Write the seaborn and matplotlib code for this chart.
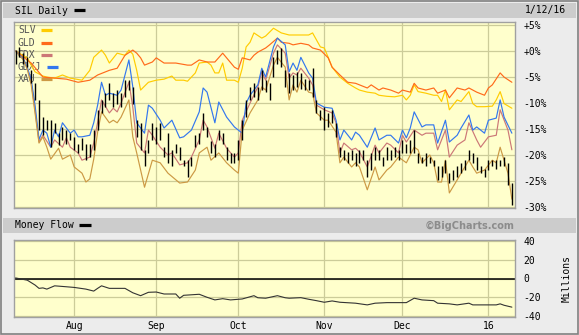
import numpy as np
import pandas as pd
import matplotlib
matplotlib.use("Agg")
import matplotlib.pyplot as plt
from matplotlib.patches import Rectangle
from matplotlib.lines import Line2D
import seaborn as sns

# ---------------- data (trading-day index from 13 Jul 2015, % change) -------------
TICK_POS = [15, 36, 57, 79, 99, 121]
TICK_LABELS = ["Aug", "Sep", "Oct", "Nov", "Dec", "16"]
Y_TICKS = [5, 0, -5, -10, -15, -20, -25, -30]
Y_LABELS = ["+5%", "+0%", "-5%", "-10%", "-15%", "-20%", "-25%", "-30%"]
MF_TICKS = [40, 20, 0, -20, -40]
MF_LABELS = ["40", "20", "0", "-20", "-40"]

SLV_idx = [0,3,4,5,7,8,10,12,14,17,19,20,22,23,24,26,28,29,30,31,32,34,36,38,40,41,43,44,46,47,
           49,50,51,52,53,54,56,57,58,59,60,61,63,64,66,68,70,73,75,76,78,79,80,81,83,85,87,88,90,92,
           93,95,97,99,100,101,102,103,105,107,108,109,110,111,113,114,116,117,118,120,122,123,124,125,127]
SLV_pct = [0,-1.3,-2.7,-4.0,-4.8,-5.0,-5.2,-4.6,-5.2,-5.6,-3.7,-1.2,0.2,-0.8,-2.3,-0.4,-0.8,0.2,-0.6,-3.7,
           -7.5,-6.0,-5.6,-5.4,-4.8,-5.6,-5.6,-5.8,-4.2,-2.3,-2.1,-2.7,-4.2,-4.2,-2.3,-5.6,-5.6,-6.0,-3.3,0.8,
           1.7,3.5,2.5,2.9,4.4,3.5,3.1,3.1,3.1,3.5,0.8,0.6,-1.2,-3.1,-5.0,-6.2,-7.1,-7.5,-7.9,-8.1,
           -8.5,-8.7,-8.8,-8.5,-9.4,-8.5,-6.5,-7.8,-8.1,-8.5,-8.5,-9.7,-7.5,-11.3,-9.4,-9.7,-7.8,-10.1,-10.7,-10.7,
           -10.6,-9.4,-7.8,-10.1,-11.0]

GLD_idx = [0,4,7,10,13,16,19,21,24,26,28,30,31,32,33,35,36,38,41,44,45,47,49,51,53,54,56,57,58,60,
           61,62,64,65,67,68,70,71,73,75,76,78,80,81,83,85,87,88,90,91,93,94,96,98,99,101,102,103,105,107,
           108,110,111,113,115,116,118,120,121,122,124,125,127]
GLD_pct = [0,-2.3,-5.0,-5.2,-5.4,-6.0,-5.6,-4.6,-3.7,-3.3,-0.8,0.2,-0.4,-1.3,-2.7,-2.1,-1.3,-2.3,-2.3,-2.7,
           -2.7,-1.7,-2.1,-2.1,-0.4,-1.3,-3.1,-3.5,-1.3,-1.7,-0.8,-0.2,0.6,1.2,2.5,1.7,1.5,1.2,1.5,1.2,
           0.6,0.2,-1.3,-3.1,-4.6,-6.0,-6.2,-6.5,-7.1,-6.5,-7.5,-7.1,-7.5,-8.1,-7.5,-7.9,-6.2,-7.1,-7.5,-7.1,
           -8.1,-7.5,-9.0,-7.1,-7.5,-7.1,-7.9,-8.5,-7.1,-6.5,-4.2,-5.0,-6.0]

GDX_idx = [0,2,3,4,5,6,7,9,10,12,13,14,16,17,19,20,21,22,24,25,26,27,29,30,31,33,34,35,37,39,
           40,42,44,45,47,48,49,51,52,54,56,57,58,60,62,63,64,66,67,69,70,71,72,73,75,76,77,79,81,82,
           83,84,86,87,88,90,92,93,95,96,98,99,100,102,104,105,107,108,110,111,113,115,116,118,119,121,123,124,126,127]
GDX_pct = [0,-1.5,-3.3,-6.0,-11.5,-17.5,-16.2,-18.5,-17.1,-18.5,-16.7,-18.5,-19.6,-21.0,-20.4,-17.7,-13.7,-9.4,-11.9,-11.0,
           -11.7,-10.0,-6.0,-10.8,-17.7,-19.6,-15.2,-16.2,-18.5,-20.0,-19.6,-21.9,-21.5,-20.4,-17.1,-13.3,-14.6,-18.7,-15.8,-18.7,
           -20.4,-19.6,-13.3,-10.0,-6.9,-4.0,-5.6,-0.4,1.2,-0.4,-5.2,-4.2,-4.6,-3.3,-5.2,-6.5,-10.4,-11.3,-11.9,-13.8,
           -19.6,-17.7,-19.0,-18.7,-19.4,-22.3,-18.1,-19.6,-17.7,-18.1,-19.6,-16.2,-17.5,-15.2,-16.2,-15.8,-15.8,-19.0,-15.2,-20.4,
           -18.1,-17.1,-13.8,-17.1,-18.5,-16.5,-16.2,-11.3,-15.2,-19.0]

GDXJ_idx = [0,2,3,4,5,6,7,8,9,10,11,12,14,15,16,17,19,20,21,22,23,24,26,27,29,30,31,33,34,35,
            37,38,40,42,43,45,47,48,49,51,52,54,56,58,59,60,62,63,64,66,67,69,70,71,72,73,75,76,77,79,
            81,82,83,84,86,87,88,90,92,93,95,96,98,99,100,101,102,104,105,107,108,110,111,113,114,116,117,118,120,121,
            123,124,125,127]
GDXJ_pct = [0,-1.5,-3.1,-5.5,-10.5,-17.0,-15.2,-15.8,-18.5,-15.2,-16.5,-13.8,-15.8,-15.2,-16.5,-16.5,-16.2,-13.8,-10.4,-6.0,
            -8.5,-8.1,-8.5,-7.5,-1.7,-6.9,-13.8,-15.8,-10.4,-11.0,-13.3,-14.8,-13.3,-16.7,-16.5,-15.2,-11.7,-7.1,-7.9,-13.8,
            -9.8,-12.7,-14.6,-15.8,-10.0,-8.5,-6.5,-3.3,-5.0,0.8,2.5,1.2,-4.0,-2.3,-3.7,-1.2,-4.2,-5.2,-10.0,-10.8,
            -11.0,-13.3,-17.1,-15.2,-17.1,-15.6,-16.2,-18.5,-14.8,-17.1,-16.2,-16.2,-17.7,-15.2,-16.7,-14.8,-11.7,-14.6,-14.2,-14.2,
            -17.7,-13.3,-17.5,-16.2,-14.8,-12.3,-15.2,-14.6,-15.8,-13.3,-12.9,-9.4,-12.7,-15.8]

XAU_idx = [0,2,3,4,5,6,7,8,9,11,12,14,15,17,18,19,20,21,22,24,25,26,27,29,30,31,33,35,37,39,
           42,44,46,47,49,50,52,54,56,57,58,60,62,63,64,66,67,69,70,71,72,73,75,76,77,79,80,82,83,84,
           86,87,88,90,92,93,95,96,98,100,102,103,104,106,107,108,109,110,111,113,114,116,117,118,120,122,123,124,125,126,
           127]
XAU_pct = [0,-1.7,-3.5,-6.5,-12.0,-17.7,-16.5,-18.5,-20.8,-18.7,-20.8,-20.0,-22.3,-23.5,-25.2,-24.6,-20.8,-15.6,-11.7,-13.8,
           -13.3,-13.8,-12.7,-9.4,-16.5,-19.6,-26.2,-21.0,-21.5,-23.5,-25.4,-25.2,-22.9,-19.6,-18.5,-21.0,-19.6,-21.5,-22.9,-23.5,
           -15.2,-11.9,-9.4,-6.9,-7.5,-2.7,-1.2,-3.1,-9.4,-6.5,-7.9,-5.6,-7.9,-8.1,-11.9,-13.3,-13.3,-15.6,-21.5,-20.4,
           -22.3,-21.5,-22.3,-26.7,-22.3,-24.8,-22.9,-22.3,-20.4,-21.5,-18.5,-19.0,-21.5,-20.0,-21.5,-25.2,-25.2,-21.0,-27.3,-24.8,
           -23.5,-21.0,-22.3,-23.5,-22.9,-21.0,-21.5,-18.5,-21.0,-23.5,
           -28.5]

SIL_hi = [0.3,0.8,-0.4,-1.1,-3.7,-6.2,-9.4,-12.6,-13.3,-13.3,
          -13.9,-15.8,-14.6,-15.2,-15.8,-16.5,-17.8,-16.8,-17.8,-17.8,
          -15.2,-11.3,-9.4,-8.1,-6.2,-8.1,-7.5,-8.1,-5.6,-5.6,
          -6.9,-13.3,-13.9,-19.0,-17.1,-13.9,-14.6,-13.9,-18.4,-15.8,
          -19.0,-17.8,-18.4,-21.0,-21.0,-20.3,-16.2,-15.8,-12.0,-14.6,
          -17.4,-17.8,-15.2,-15.8,-18.4,-19.7,-19.7,-17.1,-13.3,-9.4,
          -6.9,-6.2,-6.9,-3.7,-5.6,-6.2,-1.1,0.2,0.5,-3.7,
          -4.3,-4.6,-4.0,-4.3,-5.3,-5.6,-3.3,-9.4,-11.3,-10.7,
          -12.0,-11.3,-13.9,-18.4,-19.0,-19.4,-19.0,-19.7,-19.0,-19.0,
          -21.0,-19.7,-18.4,-19.0,-20.3,-18.4,-19.0,-18.4,-19.0,-17.1,
          -17.8,-17.1,-15.2,-19.7,-20.3,-19.7,-20.3,-21.0,-22.2,-22.2,
          -21.0,-23.5,-22.9,-22.2,-21.6,-21.0,-19.0,-19.7,-20.3,-22.2,
          -22.6,-21.0,-21.0,-21.0,-21.0,-20.3,-21.6,-25.4]
SIL_lo = [-2.4,-1.1,-2.4,-3.0,-6.2,-9.4,-15.2,-16.2,-15.2,-18.4,
          -15.8,-18.1,-17.1,-17.8,-17.1,-19.0,-19.7,-19.0,-21.0,-20.3,
          -19.0,-15.2,-12.0,-10.7,-9.4,-10.7,-10.1,-10.7,-8.8,-7.5,
          -10.1,-16.5,-19.0,-22.2,-19.7,-17.1,-17.8,-17.1,-20.3,-21.6,
          -22.2,-19.7,-21.0,-22.2,-24.2,-22.2,-18.4,-17.8,-15.2,-16.5,
          -19.7,-20.3,-17.1,-17.8,-21.0,-21.6,-21.6,-21.0,-17.1,-12.6,
          -9.4,-8.8,-9.4,-7.5,-7.8,-9.4,-4.9,-2.4,-3.0,-6.9,
          -8.1,-7.5,-6.9,-7.2,-7.5,-7.5,-8.8,-12.0,-13.3,-15.2,
          -14.6,-13.9,-16.5,-20.3,-21.0,-21.6,-21.0,-22.2,-21.6,-21.0,
          -24.2,-22.9,-21.0,-21.0,-22.2,-21.0,-21.0,-20.3,-21.0,-19.7,
          -19.7,-19.7,-19.7,-21.6,-21.6,-22.2,-21.6,-22.2,-24.8,-24.2,
          -23.5,-25.4,-24.8,-24.2,-23.5,-22.9,-21.0,-21.6,-22.9,-23.5,
          -24.2,-22.9,-22.2,-22.6,-22.2,-22.2,-25.8,-29.6]

MF_idx = [0,3,5,6,7,8,10,13,15,18,20,21,22,24,28,30,32,34,36,38,41,42,43,47,49,51,53,55,58,61,
          62,64,67,69,70,73,75,77,79,81,83,87,90,92,95,100,102,104,107,108,111,113,116,117,121,123,124,125,127]
MF_val = [0.6,-1.8,-7.0,-10.5,-10.0,-11.3,-7.8,-8.8,-9.5,-11.3,-13.4,-10.5,-7.8,-10.5,-10.5,-15.2,-18.3,-14.7,-14.4,-16.5,
          -16.5,-21.0,-17.9,-16.8,-20.0,-22.8,-21.5,-22.8,-21.8,-18.3,-20.5,-21.0,-18.3,-20.5,-21.0,-20.4,-22.1,-23.6,-25.3,-23.9,
          -25.3,-26.3,-28.1,-26.3,-25.7,-25.7,-21.0,-22.8,-23.6,-26.3,-27.0,-28.1,-26.3,-28.1,-28.1,-28.1,-27.0,-28.5,-30.5]

SERIES = ["SLV", "GLD", "GDX", "GDXJ", "XAU"]
COLORS = {"SLV": "#ffcc00", "GLD": "#ff6a1a", "GDX": "#cc7777",
          "GDXJ": "#3377ee", "XAU": "#cc9944"}

# ---------------- figure -------------
W, H = 579, 335
sns.set_style("white")
plt.rcParams["font.family"] = ["DejaVu Sans Mono", "DejaVu Sans"]

fig = plt.figure(figsize=(W / 100, H / 100), dpi=100, facecolor="#ececec")


def fx(px):
    return px / W


def fy(py):
    return 1 - py / H


# header bars
fig.add_artist(Rectangle((fx(3), fy(18)), fx(573), 15 / H, transform=fig.transFigure,
                         facecolor="#cccccc", edgecolor="none", zorder=0))
fig.add_artist(Rectangle((fx(3), fy(233)), fx(573), 15 / H, transform=fig.transFigure,
                         facecolor="#cccccc", edgecolor="none", zorder=0))
fig.add_artist(Rectangle((0.001, 0.002), 0.997, 0.996, transform=fig.transFigure,
                         fill=False, edgecolor="#808080", lw=1.2, zorder=0))

fig.text(fx(15), fy(10.5), "SIL Daily", ha="left", va="center", fontsize=7, color="black")
fig.add_artist(Line2D([fx(74), fx(85)], [fy(9.5), fy(9.5)], transform=fig.transFigure,
                      color="black", lw=2.3, solid_capstyle="butt"))
fig.text(fx(566), fy(10.5), "1/12/16", ha="right", va="center", fontsize=7, color="black")

fig.text(fx(15), fy(225.5), "Money Flow", ha="left", va="center", fontsize=7, color="black")
fig.add_artist(Line2D([fx(79), fx(91)], [fy(225), fy(225)], transform=fig.transFigure,
                      color="black", lw=2.3, solid_capstyle="butt"))
fig.text(fx(515), fy(225.5), "\u00a9BigCharts.com", ha="right", va="center", fontsize=7,
         color="#8c8c8c", fontweight="bold", family=["DejaVu Sans"])

# ---------------- top panel -------------
ax = fig.add_axes([fx(14), fy(208), fx(501), 186 / H])
ax.set_facecolor("#ffffcc")

frames = []
for name, idx, vals in [("SLV", SLV_idx, SLV_pct), ("GLD", GLD_idx, GLD_pct),
                        ("GDX", GDX_idx, GDX_pct), ("GDXJ", GDXJ_idx, GDXJ_pct),
                        ("XAU", XAU_idx, XAU_pct)]:
    frames.append(pd.DataFrame({"day": idx, "pct": vals, "series": name}))
df = pd.concat(frames, ignore_index=True)

sns.lineplot(data=df, x="day", y="pct", hue="series", hue_order=SERIES, palette=COLORS,
             estimator=None, sort=False, lw=0.85, legend=False, ax=ax, zorder=3)

days = np.arange(len(SIL_hi))
ax.vlines(days, SIL_lo, SIL_hi, colors="black", lw=1.0, zorder=4)

ax.set_xlim(-0.4, 127.8)
ax.set_ylim(-30.2, 5.6)
ax.set_xticks(TICK_POS)
ax.set_xticklabels([])
ax.set_yticks(Y_TICKS)
ax.yaxis.tick_right()
ax.set_yticklabels(Y_LABELS)
ax.tick_params(axis="both", length=0, labelsize=7, colors="black")
ax.tick_params(axis="y", pad=6)
ax.grid(True, color="#cccc99", lw=0.9)
ax.set_axisbelow(True)
ax.set_xlabel("")
ax.set_ylabel("")
for s in ax.spines.values():
    s.set_color("#a0a0a0")
    s.set_linewidth(1.0)

# legend inside panel (behind lines)
leg_y = [30, 42.5, 55, 67, 79.5]
for name, py in zip(SERIES, leg_y):
    ax.text(fx(18), fy(py), name, transform=fig.transFigure, ha="left", va="center",
            fontsize=7, color="#555555", zorder=1)
    x0 = 18 + len(name) * 5.9 + 5
    ax.add_line(Line2D([fx(x0), fx(x0 + 11)], [fy(py), fy(py)], transform=fig.transFigure,
                       color=COLORS[name], lw=2.3, solid_capstyle="butt", zorder=1))

# ---------------- money flow panel -------------
ax2 = fig.add_axes([fx(14), fy(317), fx(501), 77 / H])
ax2.set_facecolor("#ffffcc")
ax2.axhline(0, color="black", lw=1.1, zorder=2)
sns.lineplot(x=MF_idx, y=MF_val, color="#333333", lw=0.8, ax=ax2, zorder=3)
ax2.set_xlim(-0.4, 127.8)
ax2.set_ylim(-41, 41)
ax2.set_xticks(TICK_POS)
ax2.set_xticklabels(TICK_LABELS)
ax2.set_yticks(MF_TICKS)
ax2.yaxis.tick_right()
ax2.set_yticklabels(MF_LABELS)
ax2.tick_params(axis="both", length=0, labelsize=7, colors="black")
ax2.tick_params(axis="y", pad=6)
ax2.tick_params(axis="x", pad=3)
ax2.grid(True, color="#cccc99", lw=0.9)
ax2.set_axisbelow(True)
for s in ax2.spines.values():
    s.set_color("#a0a0a0")
    s.set_linewidth(1.0)
fig.text(fx(567), fy(278), "Millions", rotation=90, ha="center", va="center",
         fontsize=7, color="black")

fig.savefig("out.png", dpi=100, facecolor=fig.get_facecolor())
